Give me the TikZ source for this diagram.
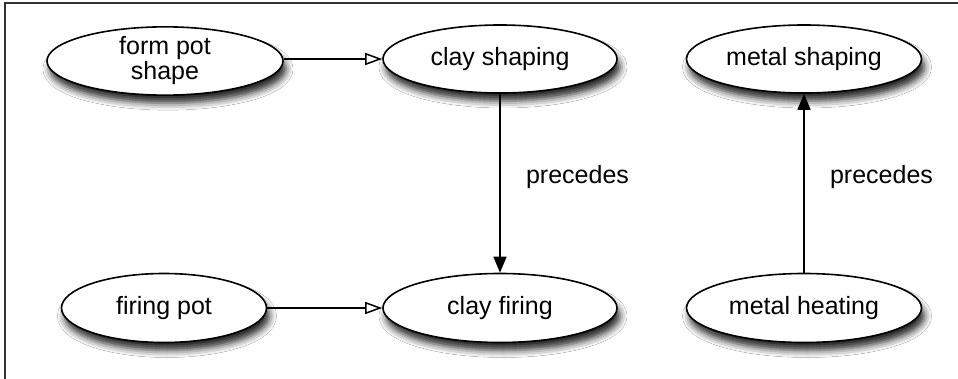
\documentclass[tikz,border=0pt]{standalone}
\usepackage{fontspec}
\setmainfont{Liberation Sans}
\usetikzlibrary{shapes.geometric,arrows.meta,shadows.blur}
\begin{document}
\begin{tikzpicture}[x=1pt,y=-1pt,
  oval/.style={ellipse, draw=black, line width=1.6pt, fill=white, inner sep=0pt,
    align=center, font=\fontsize{25}{25}\selectfont,
    blur shadow={shadow xshift=3pt, shadow yshift=-8pt, shadow blur radius=7pt, shadow opacity=85}},
  openarr/.style={line width=1.5pt, -{Triangle[open, length=17pt, width=12pt, line width=1.5pt]}},
  fillarr/.style={line width=1.5pt, -{Triangle[length=16pt, width=13pt]}},
  lbl/.style={font=\fontsize{25}{25}\selectfont, anchor=west, xshift=22pt, yshift=6pt}]
\useasboundingbox (0,0) rectangle (958,379);
\fill[white] (0,0) rectangle (958,379);
\draw[line width=1.5pt, draw=black!80] (5,379) -- (5,3) -- (958,3);
\node[oval, minimum width=236pt, minimum height=68pt] (fps) at (165,61) {form pot\\shape};
\node[oval, minimum width=234pt, minimum height=68pt] (cs) at (500,59) {clay shaping};
\node[oval, minimum width=235pt, minimum height=68pt] (ms) at (804,59) {metal shaping};
\node[oval, minimum width=205pt, minimum height=69pt] (fp) at (164,308) {firing pot};
\node[oval, minimum width=234pt, minimum height=69pt] (cf) at (500,308) {clay firing};
\node[oval, minimum width=235pt, minimum height=69pt] (mh) at (804,308) {metal heating};
\draw[openarr] (fps.east |- cs.west) -- (cs.west);
\draw[openarr] (fp.east) -- (cf.west);
\draw[fillarr] (cs.south) -- node[lbl] (l1) {precedes} (cf.north);
\draw[fillarr] (mh.north) -- node[lbl] (l2) {precedes} (ms.south);
\end{tikzpicture}
\end{document}
